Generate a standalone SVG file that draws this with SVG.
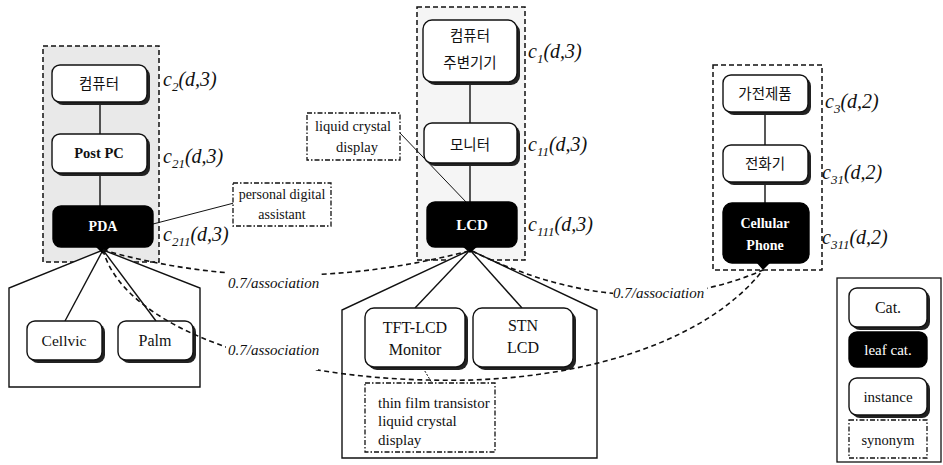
<svg xmlns="http://www.w3.org/2000/svg" width="943" height="465" viewBox="0 0 943 465" font-family="Liberation Serif, Times New Roman, serif">
  <style>
    .cont { stroke: #111; stroke-width: 1.5; stroke-dasharray: 5 3; }
    .syn { fill: #fff; stroke: #111; stroke-width: 1.3; stroke-dasharray: 5 2 1.5 2; }
    .shadow { fill: #222; }
    .box { fill: #fff; stroke: #111; stroke-width: 1.4; }
    .leaf { fill: #000; stroke: #000; stroke-width: 1.4; }
    .grp { fill: #fff; stroke: #111; stroke-width: 1.4; }
    .edge { stroke: #111; stroke-width: 1.4; fill: none; }
    .thin { stroke: #111; stroke-width: 1; fill: none; }
    .assoc { stroke: #111; stroke-width: 1.6; fill: none; stroke-dasharray: 5 3.5; }
    .t { font-family: 'Liberation Serif', serif; fill: #111; text-anchor: middle; }
    .tl { font-family: 'Liberation Serif', serif; fill: #111; }
    .w { fill: #fff; font-weight: bold; }
    .b { font-weight: bold; }
    .ko { font-family: 'Noto Sans CJK KR', sans-serif; fill: #111; text-anchor: middle; font-size: 14.5px; }
    .lab { font-family: 'Liberation Serif', serif; font-style: italic; font-size: 20px; fill: #111; }
    .as { font-family: 'Liberation Serif', serif; font-style: italic; font-size: 15px; fill: #111; }
  </style>

  <!-- category containers -->
  <g id="container-left"><rect class="cont" x="43" y="46" width="116" height="216" fill="#e9e9e9"/></g>
  <g id="container-mid"><rect class="cont" x="417" y="7" width="108" height="253" fill="#f5f5f5"/></g>
  <g id="container-right"><rect class="cont" x="713" y="65" width="109" height="205" fill="#fff"/></g>

  <!-- instance groups -->
  <g id="instances-pda"><polygon class="grp" points="9,387 9,288 103,250 200,288 200,387"/></g>
  <g id="instances-lcd"><polygon class="grp" points="342,458 342,310 470,250 597,310 597,458"/></g>

  <!-- connectors -->
  <g id="connectors">
    <line class="edge" x1="100" y1="102" x2="100" y2="134"/>
    <line class="edge" x1="100" y1="173" x2="100" y2="206"/>
    <line class="edge" x1="103" y1="250" x2="65" y2="321"/>
    <line class="edge" x1="103" y1="250" x2="156" y2="321"/>
    <line class="edge" x1="470" y1="82" x2="470" y2="123"/>
    <line class="edge" x1="470" y1="163" x2="470" y2="202"/>
    <line class="edge" x1="470" y1="250" x2="415" y2="308"/>
    <line class="edge" x1="470" y1="250" x2="522" y2="308"/>
    <line class="edge" x1="765" y1="112" x2="765" y2="145"/>
    <line class="edge" x1="765" y1="182" x2="765" y2="203"/>
    <line class="thin" x1="153" y1="224" x2="234" y2="203"/>
    <line class="thin" x1="400" y1="133" x2="467" y2="203"/>
    <line class="thin" x1="423" y1="368" x2="432" y2="383" stroke-dasharray="2 1.5"/>
  </g>

  <!-- left column -->
  <g id="node-computer">
    <rect class="shadow" x="55" y="68" width="95" height="37" rx="8"/>
    <rect class="box" x="52" y="65" width="95" height="37" rx="8"/>
    <text class="ko" x="99" y="89">컴퓨터</text>
  </g>
  <g id="node-postpc">
    <rect class="shadow" x="55" y="137" width="95" height="39" rx="8"/>
    <rect class="box" x="52" y="134" width="95" height="39" rx="8"/>
    <text class="t b" x="99" y="158" font-size="14.5" font-family="Liberation Serif, serif">Post PC</text>
  </g>
  <g id="node-pda">
    <rect class="leaf" x="53" y="206" width="100" height="41" rx="8"/>
    <polygon points="95,246 111,246 103,254" fill="#000"/>
    <text class="t w" x="103" y="231" font-size="14" font-family="Liberation Serif, serif">PDA</text>
  </g>
  <g id="node-cellvic">
    <rect class="shadow" x="30" y="324" width="75" height="39" rx="8"/>
    <rect class="box" x="27" y="321" width="75" height="39" rx="8"/>
    <text class="t" x="64" y="346" font-size="15.5" font-family="Liberation Serif, serif">Cellvic</text>
  </g>
  <g id="node-palm">
    <rect class="shadow" x="121" y="324" width="75" height="39" rx="8"/>
    <rect class="box" x="118" y="321" width="75" height="39" rx="8"/>
    <text class="t" x="155" y="346" font-size="16" font-family="Liberation Serif, serif">Palm</text>
  </g>
  <g id="syn-pda" font-family="Liberation Serif, serif">
    <rect class="syn" x="233" y="183" width="98" height="43"/>
    <text class="t" x="282" y="199" font-size="14">personal digital</text>
    <text class="t" x="282" y="219" font-size="14">assistant</text>
  </g>

  <!-- middle column -->
  <g id="node-peripheral">
    <rect class="shadow" x="426" y="23" width="94" height="62" rx="9"/>
    <rect class="box" x="423" y="20" width="94" height="62" rx="9"/>
    <text class="ko" x="470" y="41">컴퓨터</text>
    <text class="ko" x="470" y="68">주변기기</text>
  </g>
  <g id="node-monitor">
    <rect class="shadow" x="427" y="126" width="93" height="40" rx="8"/>
    <rect class="box" x="424" y="123" width="93" height="40" rx="8"/>
    <text class="ko" x="470" y="150">모니터</text>
  </g>
  <g id="node-lcd" font-family="Liberation Serif, serif">
    <rect class="leaf" x="427" y="202" width="90" height="45" rx="8"/>
    <polygon points="462,246 478,246 470,253" fill="#000"/>
    <text class="t w" x="472" y="230" font-size="15">LCD</text>
  </g>
  <g id="node-tft" font-family="Liberation Serif, serif">
    <rect class="shadow" x="368" y="311" width="100" height="59" rx="9"/>
    <rect class="box" x="365" y="308" width="100" height="59" rx="9"/>
    <text class="t" x="415" y="333" font-size="16">TFT-LCD</text>
    <text class="t" x="415" y="355" font-size="16">Monitor</text>
  </g>
  <g id="node-stn" font-family="Liberation Serif, serif">
    <rect class="shadow" x="476" y="311" width="100" height="59" rx="9"/>
    <rect class="box" x="473" y="308" width="100" height="59" rx="9"/>
    <text class="t" x="523" y="331" font-size="16">STN</text>
    <text class="t" x="523" y="353" font-size="16">LCD</text>
  </g>
  <g id="syn-lcd" font-family="Liberation Serif, serif">
    <rect class="syn" x="307" y="113" width="93" height="47"/>
    <text class="t" x="353" y="131" font-size="14.5">liquid crystal</text>
    <text class="t" x="357" y="152" font-size="14.5">display</text>
  </g>
  <g id="syn-tft" font-family="Liberation Serif, serif">
    <rect class="syn" x="365" y="383" width="130" height="69"/>
    <text class="tl" x="378" y="408" font-size="15">thin film transistor</text>
    <text class="tl" x="378" y="426" font-size="15">liquid crystal</text>
    <text class="tl" x="378" y="445" font-size="15">display</text>
  </g>

  <!-- right column -->
  <g id="node-appliance">
    <rect class="shadow" x="726" y="78" width="85" height="37" rx="8"/>
    <rect class="box" x="723" y="75" width="85" height="37" rx="8"/>
    <text class="ko" x="765" y="99">가전제품</text>
  </g>
  <g id="node-telephone">
    <rect class="shadow" x="726" y="148" width="85" height="37" rx="8"/>
    <rect class="box" x="723" y="145" width="85" height="37" rx="8"/>
    <text class="ko" x="765" y="169">전화기</text>
  </g>
  <g id="node-cellular" font-family="Liberation Serif, serif">
    <rect class="leaf" x="723" y="203" width="86" height="60" rx="9"/>
    <polygon points="756,262 771,262 763,270" fill="#000"/>
    <text class="t w" x="765" y="228" font-size="14">Cellular</text>
    <text class="t w" x="765" y="250" font-size="14">Phone</text>
  </g>

  <!-- category labels -->
  <g id="labels" font-family="Liberation Serif, serif">
    <text class="lab" x="163" y="86">c<tspan font-size="13" dy="5">2</tspan><tspan dy="-5">(d,3)</tspan></text>
    <text class="lab" x="163" y="163">c<tspan font-size="13" dy="5">21</tspan><tspan dy="-5">(d,3)</tspan></text>
    <text class="lab" x="163" y="241">c<tspan font-size="13" dy="5">211</tspan><tspan dy="-5">(d,3)</tspan></text>
    <text class="lab" x="528" y="58">c<tspan font-size="13" dy="5">1</tspan><tspan dy="-5">(d,3)</tspan></text>
    <text class="lab" x="528" y="151">c<tspan font-size="13" dy="5">11</tspan><tspan dy="-5">(d,3)</tspan></text>
    <text class="lab" x="528" y="231">c<tspan font-size="13" dy="5">111</tspan><tspan dy="-5">(d,3)</tspan></text>
    <text class="lab" x="825" y="108">c<tspan font-size="13" dy="5">3</tspan><tspan dy="-5">(d,2)</tspan></text>
    <text class="lab" x="822" y="179">c<tspan font-size="13" dy="5">31</tspan><tspan dy="-5">(d,2)</tspan></text>
    <text class="lab" x="822" y="244">c<tspan font-size="13" dy="5">311</tspan><tspan dy="-5">(d,2)</tspan></text>
  </g>

  <!-- association links -->
  <g id="associations" font-family="Liberation Serif, serif">
    <path class="assoc" d="M103,250 Q280,300 469,251"/>
    <path class="assoc" d="M103,250 C125,330 280,378 430,380 C560,384 700,350 763,270"/>
    <path class="assoc" d="M472,251 Q630,328 763,270"/>
    <rect x="226" y="267" width="94" height="25" fill="#fff"/>
    <text class="as" x="228" y="288">0.7/association</text>
    <rect x="226" y="340" width="92" height="30" fill="#fff"/>
    <text class="as" x="228" y="355">0.7/association</text>
    <rect x="613" y="283" width="94" height="18" fill="#fff"/>
    <text class="as" x="613" y="298">0.7/association</text>
  </g>

  <!-- legend -->
  <g id="legend" font-family="Liberation Serif, serif">
    <rect x="837" y="278" width="104" height="184" fill="#fff" stroke="#111" stroke-width="1.3"/>
    <rect class="shadow" x="852" y="291" width="78" height="39" rx="8"/>
    <rect class="box" x="849" y="288" width="78" height="39" rx="8"/>
    <text class="t" x="888" y="313" font-size="16">Cat.</text>
    <rect class="leaf" x="849" y="332" width="78" height="35" rx="8"/>
    <text class="t" x="888" y="355" font-size="15" style="fill:#fff">leaf cat.</text>
    <rect class="shadow" x="852" y="381" width="78" height="37" rx="8"/>
    <rect class="box" x="849" y="378" width="78" height="37" rx="8"/>
    <text class="t" x="888" y="402" font-size="15">instance</text>
    <rect class="syn" x="849" y="420" width="78" height="38"/>
    <text class="t" x="888" y="445" font-size="14.5">synonym</text>
  </g>
</svg>
